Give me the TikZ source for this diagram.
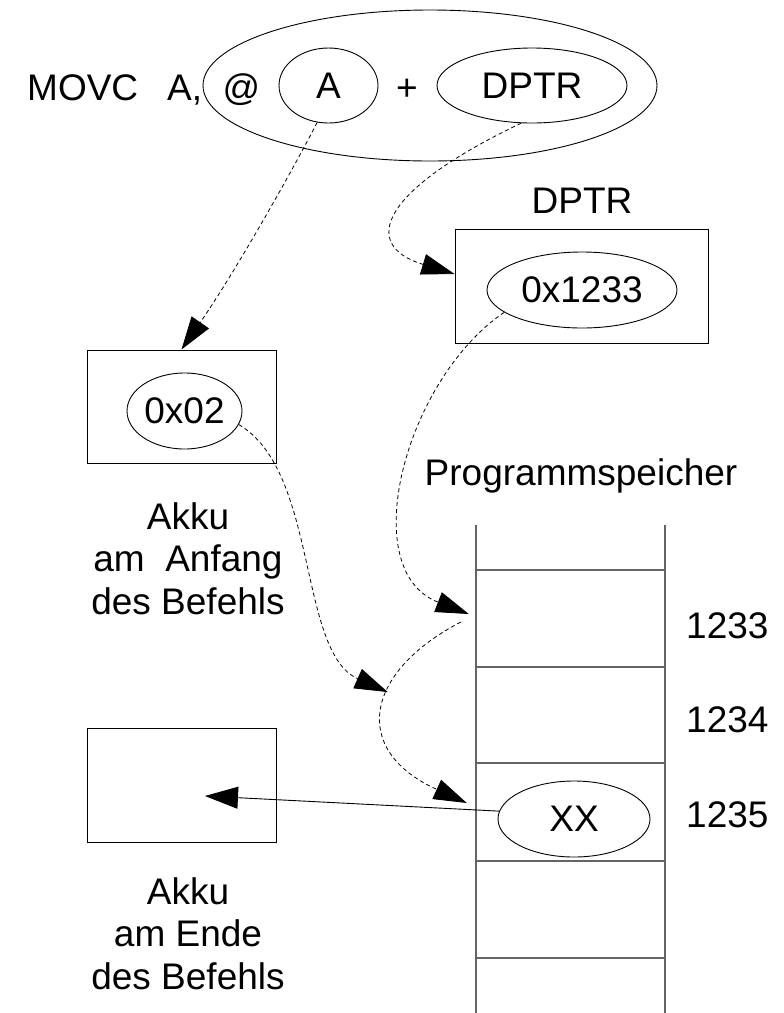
\documentclass[tikz,border=0pt]{standalone}
\usepackage{fontspec}
\setmainfont{Liberation Sans}
\usetikzlibrary{arrows.meta,shapes.geometric}
\definecolor{memgray}{RGB}{100,100,100}

\begin{document}
\begin{tikzpicture}[x=1pt,y=-1pt,
  every node/.style={inner sep=0pt, font=\fontsize{37}{42.5}\selectfont},
  oval/.style={draw, ellipse, line width=0.9pt},
  box/.style={draw, rectangle, line width=1pt},
  cellnode/.style={minimum width=189pt, minimum height=97pt},
  flow/.style={dash pattern=on 4pt off 3pt, line width=0.8pt,
    -{Triangle[length=33pt,width=21pt]}},
  take/.style={line width=0.9pt, -{Triangle[length=33pt,width=22pt]}},
  memline/.style={draw=memgray, line width=1.3pt}]

\useasboundingbox (0,0) rectangle (784,1013);

% instruction with its two operands
\node[anchor=base west] (movc) at (27,100) {MOVC};
\node[anchor=base west] (areg) at (167,100) {A,};
\node[oval, minimum width=454pt, minimum height=151pt] (instr) at (430,85.5) {};
\node[anchor=base] (atsign) at (241.5,100) {@};
\node[oval, minimum width=99pt, minimum height=75pt] (opa) at (328.5,85.5) {A};
\node[anchor=base] (plus) at (407,100) {+};
\node[oval, minimum width=190pt, minimum height=75pt] (opd) at (532,85.5) {DPTR};

% DPTR register
\node[anchor=base] (dlabel) at (582,213) {DPTR};
\node[box, minimum width=253pt, minimum height=114pt] (dbox) at (581.5,286) {};
\node[oval, minimum width=190pt, minimum height=76pt] (dval) at (582,290) {0x1233};

% accumulator before the instruction
\node[box, minimum width=189pt, minimum height=113pt] (akku1) at (181.5,406.5) {};
\node[oval, minimum width=115pt, minimum height=76pt] (aval) at (184.5,411) {0x02};
\node[anchor=north, align=center] (akku1txt) at (188,502) {Akku\\am\ \ Anfang\\des Befehls};

% accumulator after the instruction
\node[box, minimum width=189pt, minimum height=114pt] (akku2) at (181.5,785) {};
\node[anchor=north, align=center] (akku2txt) at (188,877) {Akku\\am Ende\\des Befehls};
\coordinate (akkuin) at ([xshift=23.5pt,yshift=-11pt]akku2.center);

% program memory column
\node[anchor=base] (pslabel) at (581,485) {Programmspeicher};
\draw[memline] (476,525) -- (476,1013);
\draw[memline] (665,525) -- (665,1013);
\foreach \yy in {570,667,763,861,958}
  \draw[memline] (476,\yy) -- (665,\yy);
\node[cellnode] (m1233) at (570.5,618.5) {};
\node[cellnode] (m1234) at (570.5,715) {};
\node[cellnode] (m1235) at (570.5,812) {};
\node[anchor=base west] (l1233) at (686,638) {1233};
\node[anchor=base west] (l1234) at (686,732) {1234};
\node[anchor=base west] (l1235) at (686,827) {1235};
\node[oval, minimum width=152pt, minimum height=76pt] (xx) at (574,819) {XX};

% data flow
\draw[flow] (opa.-107) .. controls +(-35,67) and +(48.5,-70) .. (akku1.north);
\draw[flow] (opd.-106) .. controls +(-141,67) and +(-95,-29) .. ([yshift=12pt]dbox.west);
\draw[flow] (dval.-164) .. controls +(-99,67) and +(-114,-44) .. ([xshift=-7pt,yshift=4.5pt]m1233.west);
\draw[flow] ([xshift=-15pt,yshift=-3.5pt]m1233.west)
  .. controls +(-96,50) and +(-117,-53) .. coordinate[pos=0.4] (join)
  ([xshift=-9pt,yshift=9pt]m1235.west);
\draw[flow] (aval.-14) .. controls +(80,47) and +(-90,-40) .. (join);
\draw[take] (xx.174) -- (akkuin);

\end{tikzpicture}
\end{document}
